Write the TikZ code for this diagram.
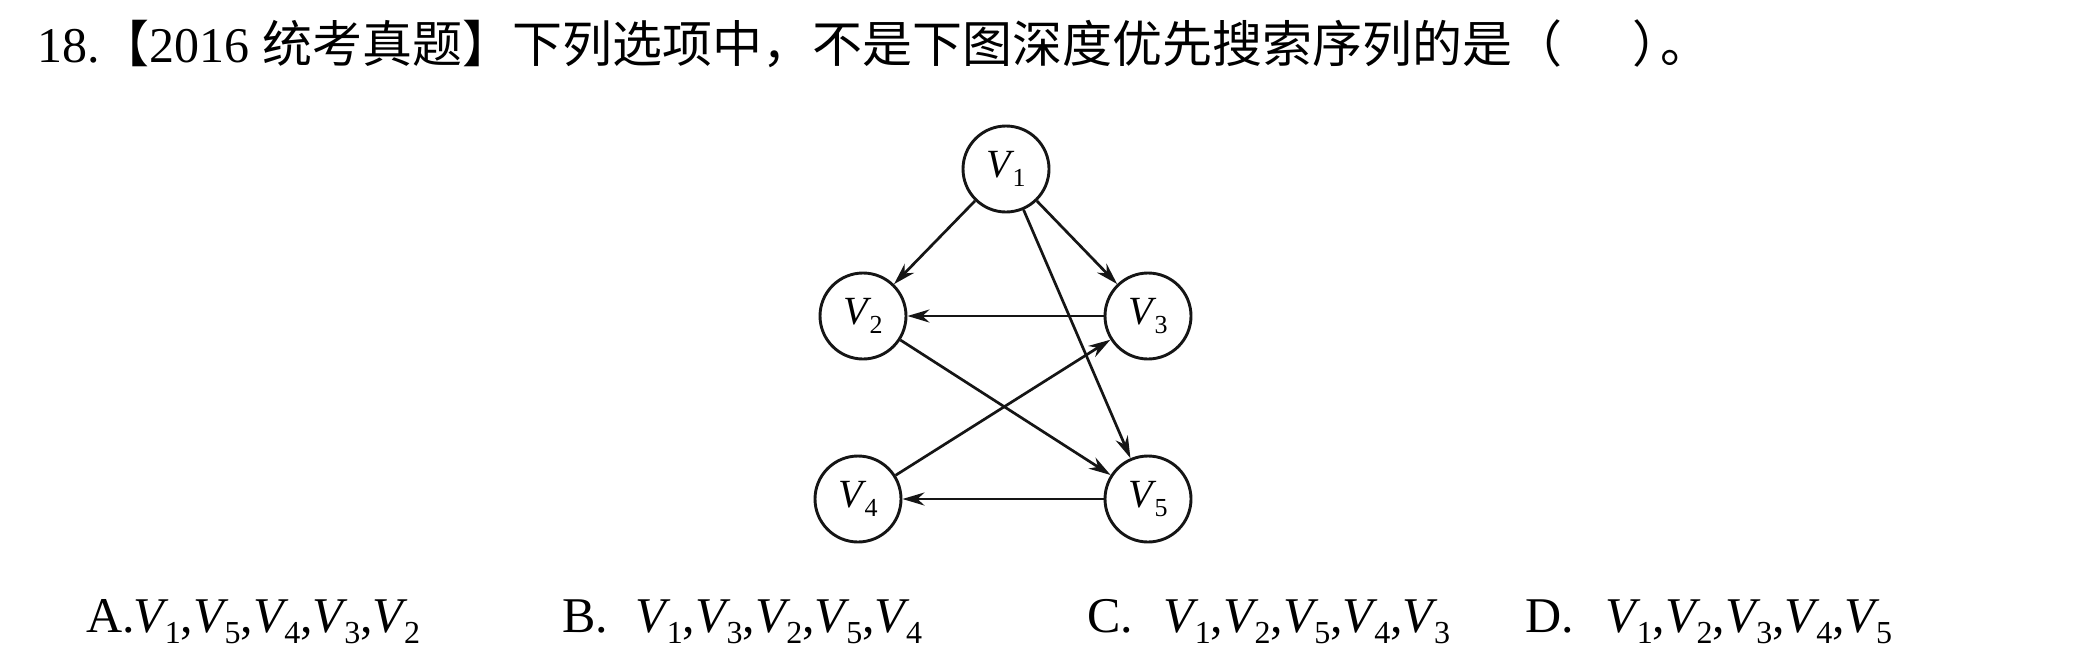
\documentclass[tikz,border=0pt]{standalone}
\usepackage{fontspec}
\setmainfont{Liberation Serif}
\newfontfamily\cjk{Noto Sans CJK SC}
\usetikzlibrary{arrows.meta}
\newcommand{\LV}[1]{\textit{V}\kern-2pt\raisebox{-5.5pt}{\fontsize{16pt}{16pt}\selectfont #1}}
\newcommand{\NV}[1]{\textit{V}\kern-1pt\raisebox{-4.5pt}{\fontsize{13pt}{13pt}\selectfont #1}}
\definecolor{ink}{HTML}{151515}
\begin{document}
\begin{tikzpicture}[x=0.5pt,y=-0.5pt,
  vert/.style={circle,draw=ink,line width=1.45pt,minimum size=43pt,inner sep=0pt,
    font=\fontsize{20pt}{20pt}\selectfont},
  edge/.style={draw=ink,line width=1.35pt,-{Stealth[length=11pt,width=6.5pt,inset=3.5pt]}},
  txt/.style={anchor=base west,inner sep=0pt,font=\fontsize{25pt}{25pt}\selectfont}]
\useasboundingbox[fill=white] (0,0) rectangle (2081,665);
% title
\node[txt] (t1) at (37,62) {18.{\cjk 【}2016 {\cjk 统考真题】下列选项中，不是下图深度优先搜索序列的是（}};
\node[txt] (t2) at (1632,62) {\cjk ）};
\node[txt] (t3) at (1660,62) {\cjk 。};
% graph
\node[vert] (V1) at (1006,169) {\NV{1}};
\node[vert] (V2) at (863,316) {\NV{2}};
\node[vert] (V3) at (1148,316) {\NV{3}};
\node[vert] (V4) at (858,499) {\NV{4}};
\node[vert] (V5) at (1148,499) {\NV{5}};
\draw[edge] (V1) -- (V2);
\draw[edge] (V1) -- (V3);
\draw[edge] (V1) -- (V5);
\draw[edge] (V3) -- (V2);
\draw[edge] (V2) -- (V5);
\draw[edge] (V4) -- (V3);
\draw[edge] (V5) -- (V4);
% options
\node[txt] (a1) at (86,632) {A.};
\node[txt] (a2) at (133,632) {\LV{1},\LV{5},\LV{4},\LV{3},\LV{2}};
\node[txt] (b1) at (562,632) {B.};
\node[txt] (b2) at (635,632) {\LV{1},\LV{3},\LV{2},\LV{5},\LV{4}};
\node[txt] (c1) at (1087,632) {C.};
\node[txt] (c2) at (1163,632) {\LV{1},\LV{2},\LV{5},\LV{4},\LV{3}};
\node[txt] (d1) at (1525,632) {D.};
\node[txt] (d2) at (1605,632) {\LV{1},\LV{2},\LV{3},\LV{4},\LV{5}};
\end{tikzpicture}
\end{document}
